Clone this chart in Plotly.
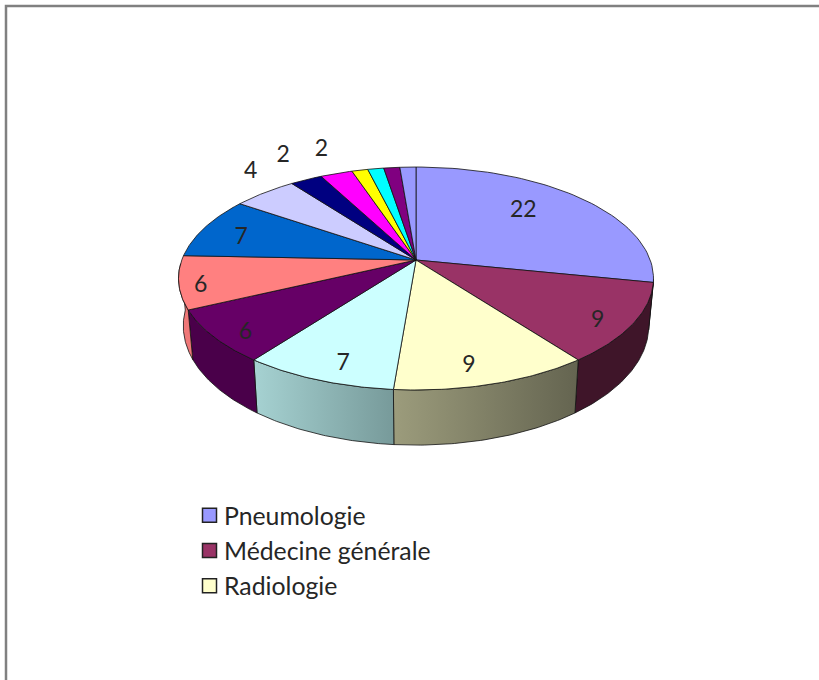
import numpy as np
import plotly.graph_objects as go

# --- data -------------------------------------------------------------
values = [22, 9, 9, 7, 6, 6, 7, 4, 2, 2, 1, 1, 1, 1]
shown_labels = ["22", "9", "9", "7", "6", "6", "7", "4", "2", "2", "", "", "", ""]
legend_names = ["Pneumologie", "Médecine générale", "Radiologie"]

# --- style ------------------------------------------------------------
top_colors = ["#9999FF", "#993366", "#FFFFCC", "#CCFFFF", "#660066", "#FF8080", "#0066CC",
              "#CCCCFF", "#000080", "#FF00FF", "#FFFF00", "#00FFFF", "#800080", "#9999FF"]
wall_left = ["#5c5c99", "#3f1529", "#9c9c7c", "#a6d2d2", "#4a004a", "#ef7878", "#0066CC",
             "#CCCCFF", "#000080", "#FF00FF", "#FFFF00", "#00FFFF", "#800080", "#9999FF"]
wall_right = ["#5c5c99", "#3f1529", "#646450", "#779a9a", "#4a004a", "#ef7878", "#0066CC",
              "#CCCCFF", "#000080", "#FF00FF", "#FFFF00", "#00FFFF", "#800080", "#9999FF"]
# label placement: radial factor and angular nudge (degrees) around each slice's middle
label_r = [0.71, 0.869, 0.85, 0.857, 0.884, 0.912, 0.808, 1.265, 1.349, 1.338]
label_dt = [-6.4, 2.8, 2.9, -2.5, -2.8, -2.0, -2.0, 5.8, 2.2, 1.7]
LABEL_DY = 2

FONT = "Lato, Carlito, sans-serif"
TEXT = "#262626"

# --- projection of the pie disc onto the page ---------------------------
CX, CY, BX, BY, K, DEPTH, SHRINK = 416.0, 260.0, 234.2, 108.4, 0.166, 46.0, 0.98


def project(theta_deg, r=1.0, floor=False):
    t = np.radians(theta_deg)
    X, Y = r * np.sin(t), -r * np.cos(t)
    w = 1 - K * Y
    x = BX * X / w
    y = CY + BY * Y / w
    if floor:
        return CX + SHRINK * x, y + DEPTH / w
    return CX + x, y


total = sum(values)
edges = np.concatenate([[0], np.cumsum(values)]) / total * 360.0
fig = go.Figure()
EDGE = dict(color="#111111", width=0.8)

# side walls of the slices turned towards the viewer
for i in range(len(values)):
    a0, a1 = max(edges[i], 100.0), min(edges[i + 1], 268.0)
    if a1 <= a0:
        continue
    th = np.linspace(a0, a1, 60)
    xt, yt = project(th)
    xb, yb = project(th[::-1], floor=True)
    fig.add_trace(go.Scatter(
        x=np.concatenate([xt, xb, xt[:1]]), y=np.concatenate([yt, yb, yt[:1]]),
        mode="lines", fill="toself", line=EDGE,
        fillgradient=dict(type="horizontal", colorscale=[[0, wall_left[i]], [1, wall_right[i]]]),
        hoverinfo="skip", showlegend=False))

# top faces
for i in range(len(values)):
    th = np.linspace(edges[i], edges[i + 1], 60)
    xa, ya = project(th)
    fig.add_trace(go.Scatter(
        x=np.concatenate([[CX], xa, [CX]]), y=np.concatenate([[CY], ya, [CY]]),
        mode="lines", fill="toself", fillcolor=top_colors[i], line=EDGE,
        hoverinfo="skip", showlegend=False))

# value labels
mids = (edges[:-1] + edges[1:]) / 2
n = len(label_r)
lx, ly = project(mids[:n] + np.array(label_dt), np.array(label_r))
fig.add_trace(go.Scatter(x=lx, y=ly + LABEL_DY, mode="text", text=shown_labels[:n],
                         textposition="middle center",
                         textfont=dict(family=FONT, size=23, color=TEXT),
                         hoverinfo="skip", showlegend=False))

# legend keys
for i, name in enumerate(legend_names):
    fig.add_trace(go.Scatter(x=[None], y=[None], mode="markers", name=name, legendgroup=name,
                             marker=dict(symbol="square", size=14, color=top_colors[i],
                                         line=dict(color="#222222", width=1.5))))

fig.update_layout(
    width=819, height=680, margin=dict(l=0, r=0, t=0, b=0),
    paper_bgcolor="white", plot_bgcolor="white",
    xaxis=dict(range=[0, 819], visible=False, fixedrange=True),
    yaxis=dict(range=[680, 0], visible=False, fixedrange=True),
    legend=dict(x=184 / 819, y=1 - 492.7 / 680, xanchor="left", yanchor="top",
                bgcolor="rgba(0,0,0,0)", tracegroupgap=0, itemwidth=30,
                font=dict(family=FONT, size=24.8, color=TEXT)),
    shapes=[dict(type="rect", xref="x", yref="y", x0=6, y0=6, x1=900, y1=800,
                 line=dict(color="#808080", width=2.5), layer="below")],
)
post = ("document.body.style.margin='0';document.body.style.overflow='hidden';"
        "document.querySelectorAll('.legendsymbols').forEach(function(e){"
        "e.setAttribute('transform','translate(5.5,0)');});")
fig.write_html("out.html", config={"displayModeBar": False, "staticPlot": True}, post_script=post)
